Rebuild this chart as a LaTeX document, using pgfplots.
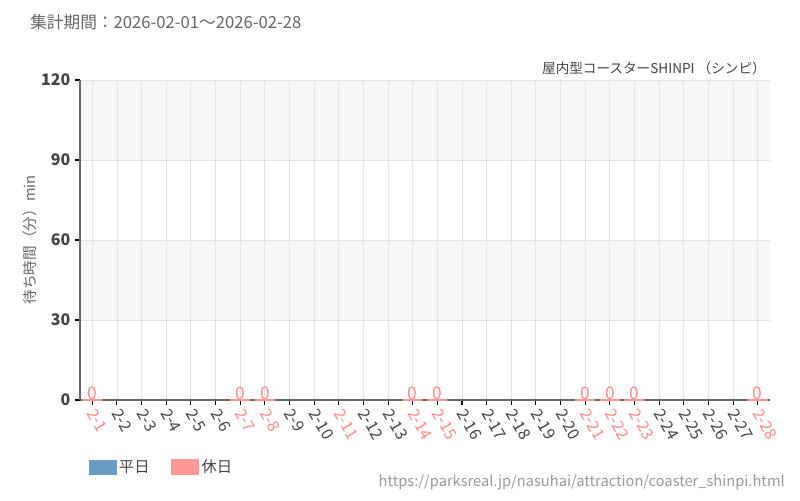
\documentclass[border=0pt]{standalone}
\usepackage{pgfplots}
\pgfplotsset{compat=1.18}
\usepackage{fontspec}
\setmainfont{Noto Sans CJK JP}
\definecolor{weekday}{HTML}{6A9CC6}
\definecolor{holiday}{HTML}{FF9896}
\definecolor{holitext}{HTML}{FF8A8A}
\definecolor{txt}{HTML}{444444}
\definecolor{band}{HTML}{F6F6F6}
\definecolor{gridc}{HTML}{E3E3E3}
\newcommand{\hd}[1]{\textcolor{holitext}{#1}}
\newcommand{\fs}[1]{\fontsize{#1}{#1}\selectfont}

\begin{document}
\begin{tikzpicture}
% page frame in px (1px = 0.75pt)
\begin{scope}[x=0.75pt,y=-0.75pt]
\path[use as bounding box] (0,0) rectangle (800,500);
\node[anchor=west, inner sep=0pt, text=black!60, font=\fs{12.5pt}] at (30,22) {集計期間：2026-02-01～2026-02-28};
\node[anchor=east, inner sep=0pt, text=txt, font=\fs{10.2pt}] at (766,68) {屋内型コースターSHINPI （シンピ）};
\node[anchor=east, inner sep=0pt, text=black!40, font=\fs{11pt}] at (785,482) {https://parksreal.jp/nasuhai/attraction/coaster\_shinpi.html};
\end{scope}

\begin{axis}[
    at={(60pt,-300pt)}, anchor=south west,
    scale only axis,
    width=517.5pt, height=240pt,
    xmin=-0.5, xmax=27.5,
    ymin=0, ymax=120,
    ytick={0,30,60,90,120},
    xtick={0,...,27},
    xticklabels={\hd{2-1},2-2,2-3,2-4,2-5,2-6,\hd{2-7},\hd{2-8},2-9,2-10,\hd{2-11},2-12,2-13,\hd{2-14},\hd{2-15},2-16,2-17,2-18,2-19,2-20,\hd{2-21},\hd{2-22},\hd{2-23},2-24,2-25,2-26,2-27,\hd{2-28}},
    xmajorgrids, ymajorgrids,
    grid style={gridc, line width=0.6pt},
    axis x line*=bottom, axis y line*=left,
    axis line style={draw=black!60, line width=0.8pt, -},
    tick align=outside,
    major tick length=3.75pt,
    tick style={draw=black, line width=0.8pt},
    xticklabel style={yshift=-3pt, xshift=-1pt, rotate=-60, anchor=west, font=\fs{12pt}, text=txt, inner sep=1pt},
    yticklabel style={font=\bfseries\fs{12pt}, text=txt},
    /pgf/number format/assume math mode=true,
    ylabel={待ち時間（分）min},
    ylabel style={at={(rel axis cs:-0.072,0.5)}, anchor=center, rotate=0, text=black!60, font=\fs{11pt}},
    set layers,
    legend style={at={(rel axis cs:0.007,-0.21)}, anchor=west, draw=none, fill=none,
        font=\fs{11.5pt}, text=txt,
        /tikz/every even column/.append style={column sep=14pt}},
    legend columns=2,
]
\begin{pgfonlayer}{axis background}
\fill[band] (axis cs:-0.5,90) rectangle (axis cs:27.5,120);
\fill[band] (axis cs:-0.5,30) rectangle (axis cs:27.5,60);
\end{pgfonlayer}

\addlegendimage{legend image code/.code={\fill[weekday] (0pt,-5pt) rectangle (20pt,5.5pt);}}
\addlegendentry{平日}

\addplot[ybar, bar width=15pt, bar shift=0pt, fill=holiday, draw=holiday, line width=1pt,
    nodes near coords,
    nodes near coords style={text=holitext, font=\fs{13pt}, inner sep=1pt, yshift=-1pt},
    legend image code/.code={\fill[holiday] (0pt,-5pt) rectangle (20pt,5.5pt);}]
coordinates {
    (0,0) (6,0) (7,0) (13,0) (14,0) (20,0) (21,0) (22,0) (27,0)
};
\addlegendentry{休日}
\end{axis}
\end{tikzpicture}
\end{document}
